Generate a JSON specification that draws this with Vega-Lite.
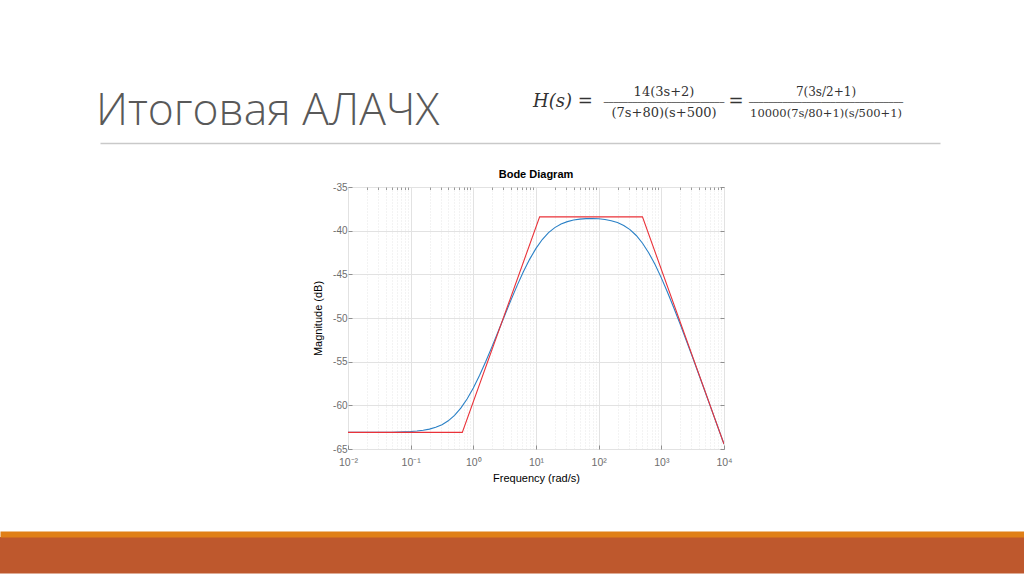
{
  "$schema": "https://vega.github.io/schema/vega-lite/v6.json",
  "padding": {"top": 80, "left": 0, "right": 0, "bottom": 0},
  "background": "white",
  "config": {
    "view": {"stroke": null},
    "font": "Liberation Sans",
    "axis": {"labelFont": "Liberation Sans", "titleFont": "Liberation Sans"}
  },
  "spacing": 50,
  "vconcat": [
    {
      "spacing": 25,
      "vconcat": [
        {
          "spacing": 0,
          "hconcat": [
            {"width": 96, "height": 1, "data": {"values": []}, "mark": "point"},
            {
              "width": 840,
              "height": 63,
              "encoding": {
                "x": {
                  "field": "part", "type": "nominal",
                  "scale": {"type": "point", "domain": ["title", "formula"], "padding": 0},
                  "axis": {"title": null, "labels": false, "ticks": false, "grid": false, "domain": true, "domainColor": "#c9c9c9", "domainWidth": 1.5}
                },
                "text": {"field": "label", "type": "nominal"}
              },
              "layer": [
                {
                  "data": {"values": [{"part": "title", "label": "Итоговая АЛАЧХ"}]},
                  "mark": {"type": "text", "align": "left", "baseline": "middle", "font": "Open Sans", "fontSize": 44.4, "fontWeight": 300, "color": "#595959", "dx": -4}
                },
                {
                  "data": {"values": [{"part": "formula", "label": "H(s) ="}]},
                  "mark": {"type": "text", "align": "left", "baseline": "middle", "font": "DejaVu Serif", "fontStyle": "italic", "fontSize": 18, "color": "#333333", "dx": -407, "dy": -9.5}
                },
                {
                  "data": {"values": [{"part": "formula", "label": "14(3s+2)"}]},
                  "mark": {"type": "text", "align": "center", "baseline": "middle", "font": "DejaVu Serif", "fontSize": 13, "color": "#333333", "dx": -276, "dy": -19.5}
                },
                {
                  "data": {"values": [{"part": "formula", "label": "─────────────────────────"}]},
                  "mark": {"type": "text", "align": "center", "baseline": "middle", "font": "DejaVu Sans", "fontSize": 8, "color": "#333333", "dx": -276, "dy": -9}
                },
                {
                  "data": {"values": [{"part": "formula", "label": "(7s+80)(s+500)"}]},
                  "mark": {"type": "text", "align": "center", "baseline": "middle", "font": "DejaVu Serif", "fontSize": 13, "color": "#333333", "dx": -276, "dy": 1.5}
                },
                {
                  "data": {"values": [{"part": "formula", "label": "="}]},
                  "mark": {"type": "text", "align": "center", "baseline": "middle", "font": "DejaVu Serif", "fontSize": 18, "color": "#333333", "dx": -204, "dy": -9.5}
                },
                {
                  "data": {"values": [{"part": "formula", "label": "7(3s/2+1)"}]},
                  "mark": {"type": "text", "align": "center", "baseline": "middle", "font": "DejaVu Serif", "fontSize": 12, "color": "#333333", "dx": -114, "dy": -20}
                },
                {
                  "data": {"values": [{"part": "formula", "label": "────────────────────────────────"}]},
                  "mark": {"type": "text", "align": "center", "baseline": "middle", "font": "DejaVu Sans", "fontSize": 8, "color": "#333333", "dx": -114, "dy": -9}
                },
                {
                  "data": {"values": [{"part": "formula", "label": "10000(7s/80+1)(s/500+1)"}]},
                  "mark": {"type": "text", "align": "center", "baseline": "middle", "font": "DejaVu Serif", "fontSize": 11.5, "color": "#333333", "dx": -114, "dy": 2}
                }
              ]
            }
          ]
        },
        {
          "spacing": 0,
          "hconcat": [
            {"width": 312, "height": 1, "data": {"values": []}, "mark": "point"},
            {
              "width": 376,
              "height": 262,
              "view": {"stroke": "#8f8f8f", "strokeWidth": 1},
              "title": {"text": "Bode Diagram", "font": "Liberation Sans", "fontSize": 11, "fontWeight": "bold", "color": "#000000", "offset": 2, "anchor": "middle"},
              "resolve": {"axis": {"x": "independent", "y": "independent"}},
              "layer": [
                {
                  "data": {"values": [
                    {"f": 0.01, "db": -63.097}, {"f": 0.01585, "db": -63.096}, {"f": 0.02512, "db": -63.092},
                    {"f": 0.03981, "db": -63.083}, {"f": 0.05012, "db": -63.074}, {"f": 0.0631, "db": -63.059},
                    {"f": 0.07943, "db": -63.037}, {"f": 0.1, "db": -63.001}, {"f": 0.1259, "db": -62.946},
                    {"f": 0.1585, "db": -62.859}, {"f": 0.1995, "db": -62.725}, {"f": 0.2512, "db": -62.521},
                    {"f": 0.3162, "db": -62.217}, {"f": 0.3981, "db": -61.774}, {"f": 0.5012, "db": -61.152},
                    {"f": 0.631, "db": -60.32}, {"f": 0.7943, "db": -59.281}, {"f": 1, "db": -58.012},
                    {"f": 1.259, "db": -56.555}, {"f": 1.585, "db": -54.951}, {"f": 1.995, "db": -53.247},
                    {"f": 2.512, "db": -51.485}, {"f": 3.162, "db": -49.707}, {"f": 3.981, "db": -47.953},
                    {"f": 5.012, "db": -46.264}, {"f": 6.31, "db": -44.684}, {"f": 7.943, "db": -43.258},
                    {"f": 10, "db": -42.028}, {"f": 12.59, "db": -41.017}, {"f": 15.85, "db": -40.231},
                    {"f": 19.95, "db": -39.651}, {"f": 25.12, "db": -39.241}, {"f": 31.62, "db": -38.964},
                    {"f": 39.81, "db": -38.786}, {"f": 50.12, "db": -38.68}, {"f": 63.1, "db": -38.625},
                    {"f": 79.43, "db": -38.613}, {"f": 100, "db": -38.642}, {"f": 125.9, "db": -38.719},
                    {"f": 158.5, "db": -38.855}, {"f": 199.5, "db": -39.073}, {"f": 251.2, "db": -39.402},
                    {"f": 316.2, "db": -39.883}, {"f": 398.1, "db": -40.553}, {"f": 501.2, "db": -41.44},
                    {"f": 631, "db": -42.555}, {"f": 794.3, "db": -43.887}, {"f": 1000, "db": -45.407},
                    {"f": 1259, "db": -47.073}, {"f": 1585, "db": -48.849}, {"f": 1995, "db": -50.701},
                    {"f": 2512, "db": -52.606}, {"f": 3162, "db": -54.544}, {"f": 3981, "db": -56.505},
                    {"f": 5012, "db": -58.48}, {"f": 6310, "db": -60.464}, {"f": 7943, "db": -62.454},
                    {"f": 10000, "db": -64.447}
                  ]},
                  "mark": {"type": "line", "color": "#2a80c6", "strokeWidth": 1.1, "clip": true},
                  "encoding": {
                    "x": {
                      "field": "f", "type": "quantitative",
                      "scale": {"type": "log", "domain": [0.01, 10000], "nice": false},
                      "axis": {
                        "orient": "bottom", "values": [0.01, 0.1, 1, 10, 100, 1000, 10000],
                        "labelExpr": "datum.value < 0.05 ? '10⁻²' : datum.value < 0.5 ? '10⁻¹' : datum.value < 5 ? '10⁰' : datum.value < 50 ? '10¹' : datum.value < 500 ? '10²' : datum.value < 5000 ? '10³' : '10⁴'",
                        "title": "Frequency  (rad/s)", "titleFontSize": 11, "titleFontWeight": "normal", "titleColor": "#000000", "titlePadding": 5,
                        "labelFontSize": 10.5, "labelColor": "#6e6e6e", "labelPadding": 12, "labelFlush": false,
                        "grid": true, "gridColor": "#e2e2e2", "gridWidth": 1,
                        "domain": false, "ticks": true, "tickSize": -4, "tickColor": "#8f8f8f"
                      }
                    },
                    "y": {
                      "field": "db", "type": "quantitative",
                      "scale": {"domain": [-65, -35], "nice": false, "zero": false},
                      "axis": {
                        "orient": "left", "values": [-65, -60, -55, -50, -45, -40, -35],
                        "labelExpr": "'' + datum.value",
                        "title": "Magnitude (dB)", "titleFontSize": 11, "titleFontWeight": "normal", "titleColor": "#000000", "titlePadding": 9,
                        "labelFontSize": 10, "labelColor": "#6e6e6e", "labelPadding": 5,
                        "grid": true, "gridColor": "#e2e2e2", "gridWidth": 1,
                        "domain": false, "ticks": true, "tickSize": -4, "tickColor": "#8f8f8f"
                      }
                    }
                  }
                },
                {
                  "data": {"values": [
                    {"f": 0.01, "db": -63.098}, {"f": 0.6667, "db": -63.098}, {"f": 11.43, "db": -38.416},
                    {"f": 500, "db": -38.416}, {"f": 10000, "db": -64.437}
                  ]},
                  "mark": {"type": "line", "color": "#ea3239", "strokeWidth": 1.1, "clip": true},
                  "encoding": {
                    "x": {
                      "field": "f", "type": "quantitative",
                      "scale": {"type": "log", "domain": [0.01, 10000], "nice": false},
                      "axis": {
                        "orient": "top",
                        "values": [0.02, 0.03, 0.04, 0.05, 0.06, 0.07, 0.08, 0.09, 0.2, 0.3, 0.4, 0.5, 0.6, 0.7, 0.8, 0.9, 2, 3, 4, 5, 6, 7, 8, 9, 20, 30, 40, 50, 60, 70, 80, 90, 200, 300, 400, 500, 600, 700, 800, 900, 2000, 3000, 4000, 5000, 6000, 7000, 8000, 9000],
                        "labels": false, "title": null, "domain": false,
                        "grid": true, "gridColor": "#e6e6e6", "gridDash": [1, 2], "gridWidth": 1,
                        "ticks": true, "tickSize": -2.5, "tickColor": "#9a9a9a"
                      }
                    },
                    "y": {
                      "field": "db", "type": "quantitative",
                      "scale": {"domain": [-65, -35], "nice": false, "zero": false},
                      "axis": {
                        "orient": "right", "values": [-65, -60, -55, -50, -45, -40, -35],
                        "labels": false, "title": null, "domain": false, "grid": false,
                        "ticks": true, "tickSize": -4, "tickColor": "#8f8f8f"
                      }
                    }
                  }
                }
              ]
            }
          ]
        }
      ]
    },
    {
      "width": 1024,
      "height": 36.5,
      "data": {"values": [{"part": "footer"}]},
      "mark": {"type": "rect", "color": "#be582d"},
      "encoding": {
        "x": {
          "field": "part", "type": "nominal",
          "scale": {"paddingInner": 0, "paddingOuter": 0},
          "axis": {"orient": "top", "title": null, "labels": false, "ticks": false, "grid": false, "domain": true, "domainColor": "#e07f17", "domainWidth": 6, "offset": 3}
        }
      }
    }
  ]
}
